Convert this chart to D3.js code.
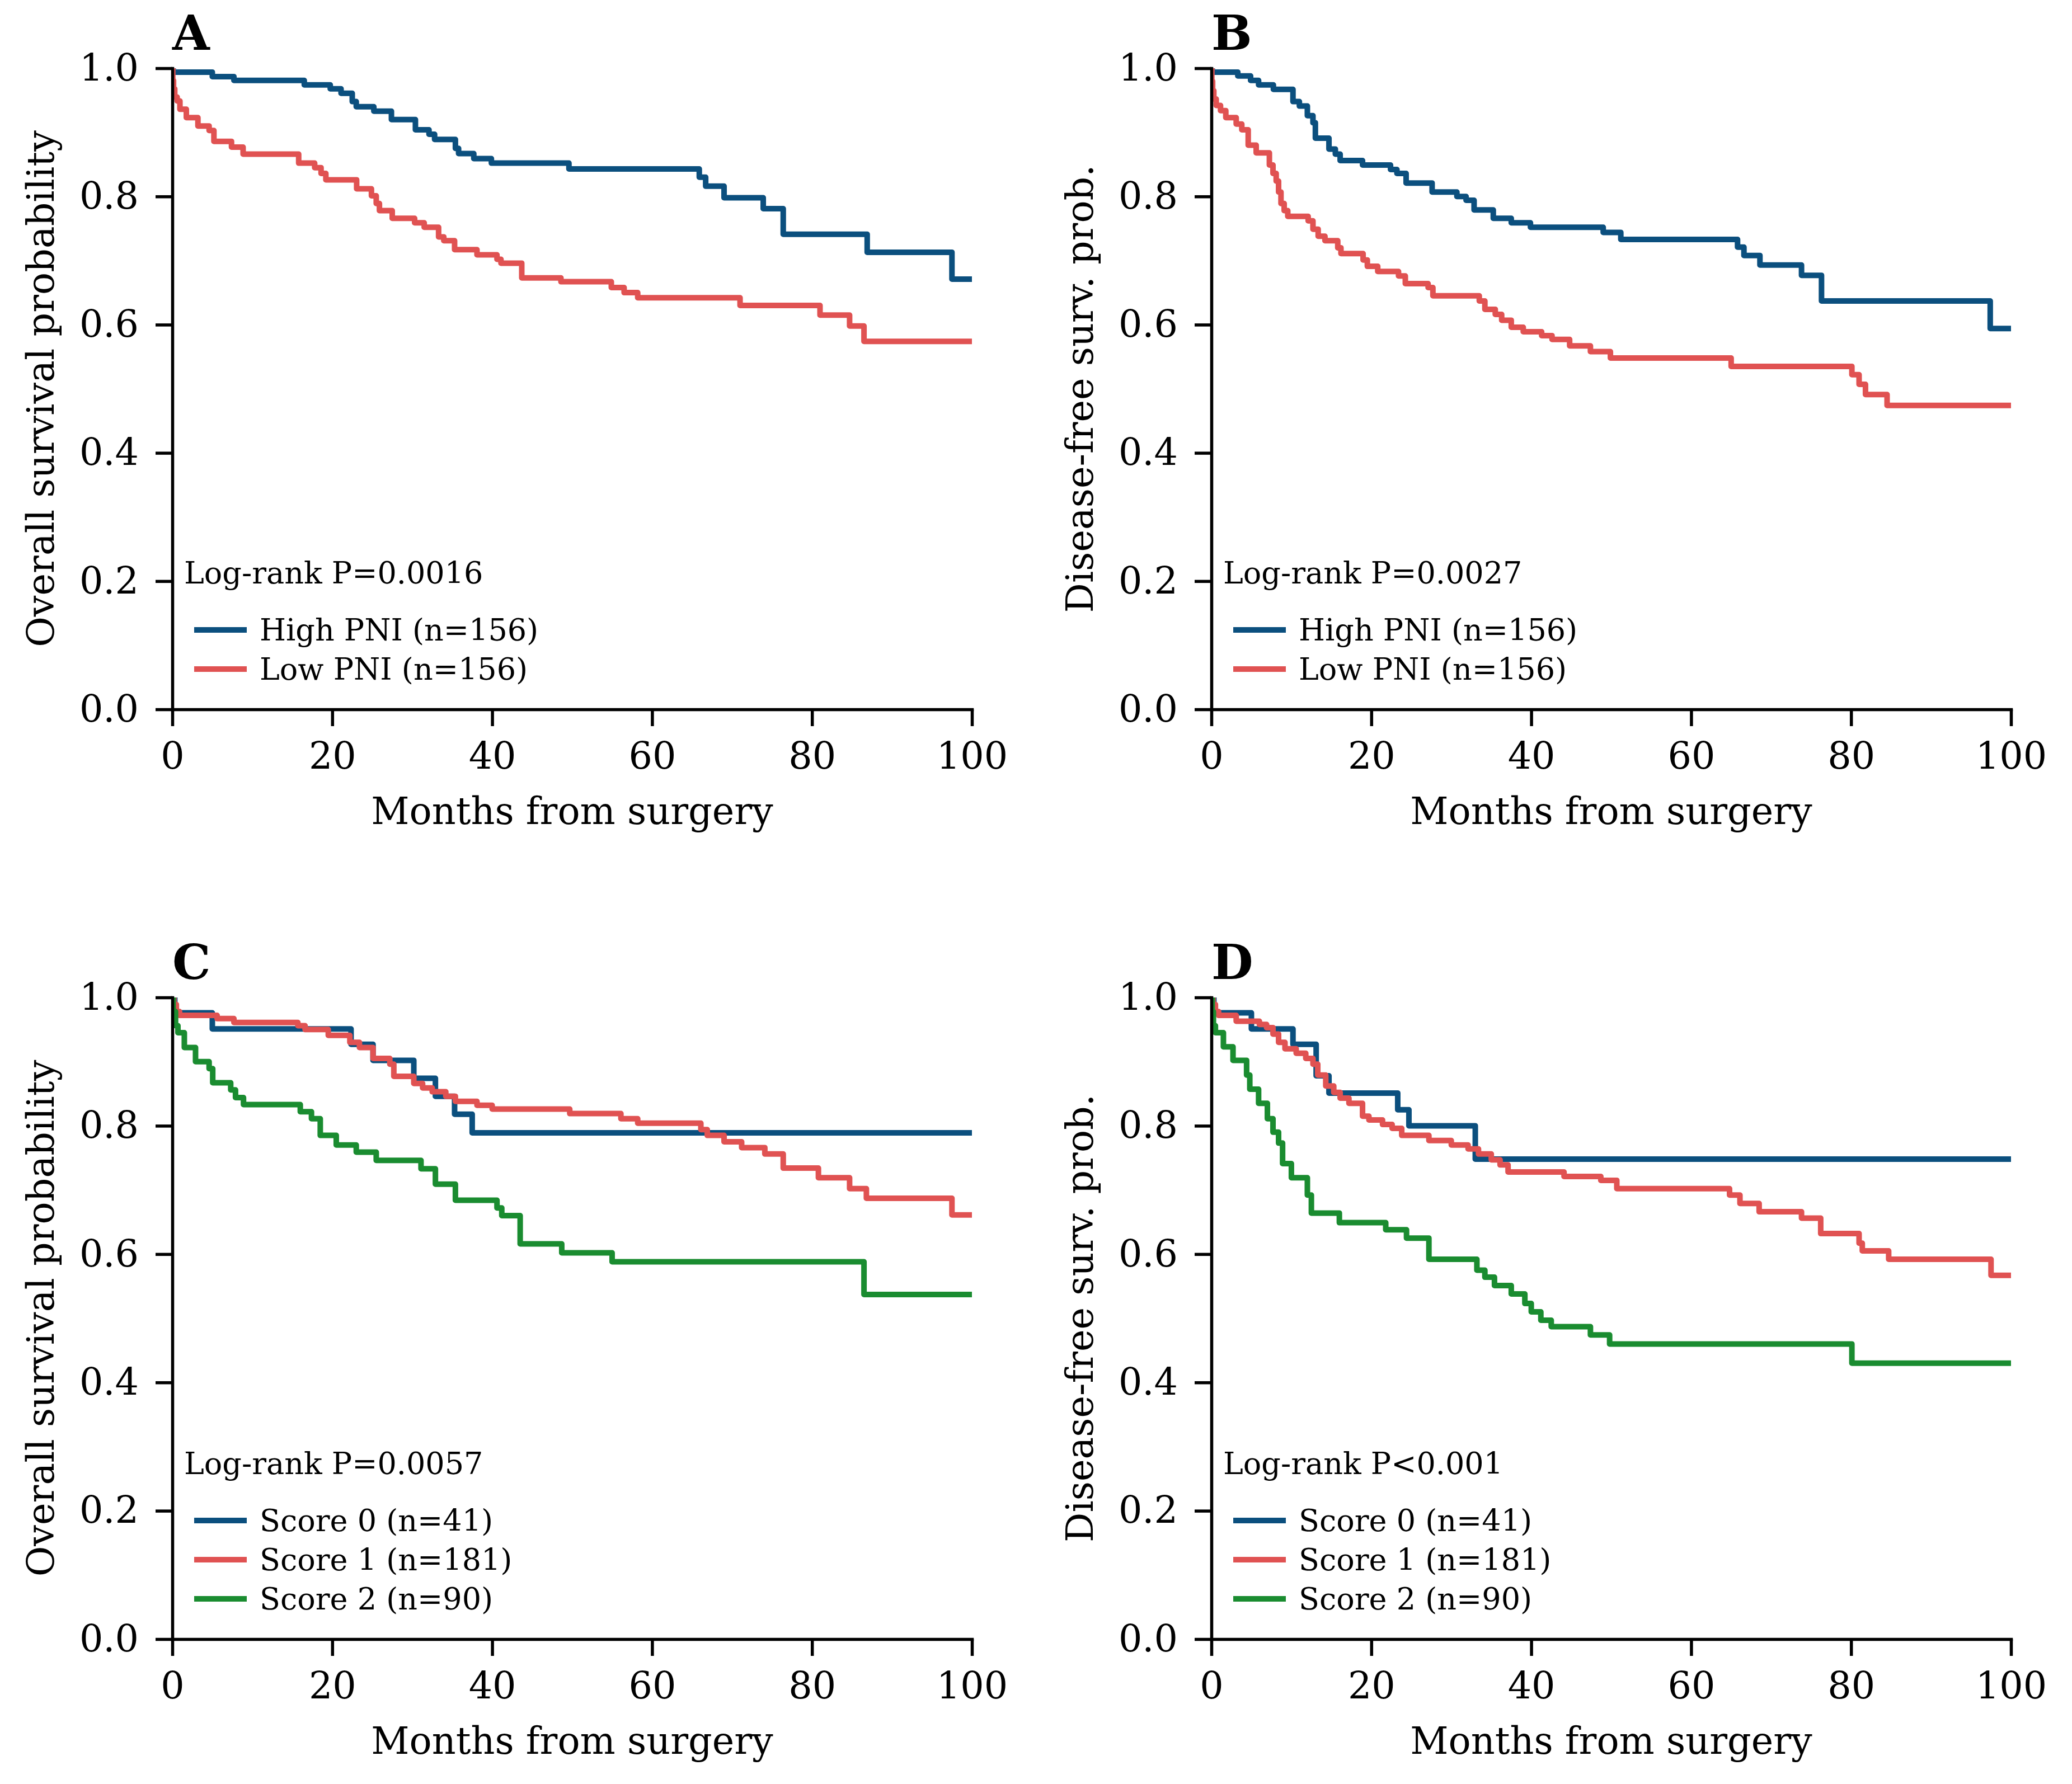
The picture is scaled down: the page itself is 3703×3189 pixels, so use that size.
<!DOCTYPE html>
<html><head><meta charset="utf-8">
<script src="https://cdn.jsdelivr.net/npm/d3@7"></script>
<style>body{margin:0;background:#fff} svg text{font-family:"DejaVu Serif",serif}</style>
</head><body>
<svg id="fig" width="3703" height="3189"></svg>
<script>
// ---------- data ----------
const xTicks = [0, 20, 40, 60, 80, 100];
const yTicks = [0, 0.2, 0.4, 0.6, 0.8, 1.0];

const colBlue = "#0b4f7e", colRed = "#e05252", colGreen = "#1a8c30";

// [month, survival] step points (after t=0, S=1)
const A_high = [[0.1,0.994],[5.0,0.987],[7.7,0.981],[16.5,0.974],[19.75,0.968],[21.1,0.961],[22.5,0.948],[23.0,0.940],[25.2,0.933],[27.4,0.920],[30.4,0.904],[32.1,0.897],[32.8,0.889],[35.4,0.875],[35.8,0.867],[37.7,0.859],[39.9,0.852],[49.6,0.843],[65.9,0.830],[66.7,0.816],[69.0,0.798],[73.9,0.781],[76.4,0.741],[86.9,0.713],[97.5,0.671]];
const A_low = [[0.05,0.981],[0.15,0.968],[0.3,0.955],[0.6,0.949],[0.95,0.936],[1.75,0.923],[3.2,0.910],[4.6,0.903],[5.2,0.886],[7.4,0.877],[8.85,0.866],[15.8,0.852],[17.8,0.845],[18.6,0.836],[19.2,0.826],[23.05,0.812],[24.9,0.801],[25.5,0.789],[25.9,0.778],[27.5,0.766],[30.3,0.759],[31.5,0.752],[33.3,0.737],[33.95,0.731],[35.3,0.717],[38.1,0.709],[40.6,0.702],[41.1,0.696],[43.7,0.673],[48.6,0.667],[54.9,0.658],[56.5,0.650],[58.2,0.642],[71.0,0.630],[81.0,0.615],[84.7,0.598],[86.5,0.574]];

const B_high = [[0.1,0.994],[3.3,0.988],[4.9,0.981],[5.9,0.974],[7.75,0.967],[10.2,0.948],[11.0,0.941],[12.0,0.926],[12.7,0.915],[13.0,0.891],[14.7,0.874],[15.5,0.866],[16.1,0.856],[18.9,0.849],[22.4,0.842],[23.2,0.836],[24.35,0.821],[27.6,0.807],[30.7,0.800],[31.85,0.794],[32.85,0.779],[35.25,0.766],[37.5,0.759],[39.9,0.752],[49.0,0.744],[51.2,0.733],[65.8,0.721],[66.6,0.708],[68.6,0.693],[73.8,0.677],[76.3,0.637],[97.4,0.594]];
const B_low = [[0.05,0.980],[0.15,0.965],[0.3,0.952],[0.6,0.942],[1.14,0.934],[1.8,0.923],[3.1,0.913],[3.8,0.904],[4.6,0.880],[5.6,0.868],[7.25,0.849],[7.7,0.836],[8.1,0.824],[8.4,0.807],[8.7,0.789],[9.1,0.778],[9.55,0.769],[12.1,0.762],[12.7,0.749],[13.35,0.738],[14.2,0.731],[15.8,0.720],[16.2,0.711],[18.97,0.701],[19.5,0.691],[20.8,0.683],[23.4,0.676],[24.25,0.664],[27.1,0.658],[27.7,0.645],[33.5,0.637],[34.2,0.624],[35.5,0.616],[36.3,0.607],[37.5,0.596],[39.0,0.589],[41.3,0.583],[42.6,0.577],[44.8,0.567],[47.4,0.558],[49.9,0.548],[65.0,0.535],[80.1,0.522],[81.0,0.507],[81.8,0.491],[84.5,0.474]];

const C_s0 = [[0.3,0.976],[5.0,0.951],[22.35,0.927],[25.1,0.902],[30.2,0.874],[32.9,0.846],[35.3,0.818],[37.5,0.789]];
const C_s1 = [[0.2,0.989],[0.5,0.978],[0.9,0.972],[5.6,0.967],[7.7,0.961],[15.7,0.956],[16.6,0.950],[19.5,0.941],[22.2,0.930],[23.4,0.922],[25.1,0.905],[27.2,0.896],[27.7,0.877],[30.2,0.866],[31.3,0.859],[32.5,0.853],[34.2,0.846],[35.4,0.838],[38.1,0.832],[40.0,0.826],[49.7,0.819],[56.1,0.811],[58.2,0.804],[66.1,0.794],[66.9,0.785],[69.0,0.775],[71.2,0.766],[74.1,0.756],[76.4,0.734],[80.8,0.719],[84.7,0.702],[86.8,0.687],[97.5,0.661]];
const C_s2 = [[0.1,0.978],[0.4,0.956],[0.7,0.945],[1.5,0.922],[2.9,0.900],[4.6,0.889],[5.05,0.867],[7.3,0.856],[7.9,0.844],[8.9,0.833],[16.0,0.822],[17.4,0.811],[18.5,0.785],[20.5,0.770],[23.0,0.759],[25.5,0.746],[31.1,0.733],[32.9,0.709],[35.4,0.684],[40.6,0.672],[41.2,0.660],[43.5,0.616],[48.7,0.602],[55.0,0.588],[86.5,0.537]];

const D_s0 = [[0.3,0.976],[5.0,0.951],[10.2,0.927],[13.1,0.878],[14.7,0.851],[23.3,0.825],[24.7,0.800],[33.0,0.748]];
const D_s1 = [[0.2,0.989],[0.5,0.978],[0.9,0.972],[3.1,0.963],[6.0,0.958],[6.9,0.953],[7.7,0.943],[8.4,0.930],[9.2,0.920],[10.6,0.913],[11.8,0.905],[12.7,0.896],[13.3,0.879],[14.3,0.862],[15.3,0.852],[16.1,0.843],[17.2,0.835],[18.9,0.815],[19.7,0.809],[21.4,0.802],[22.6,0.796],[23.8,0.785],[27.2,0.777],[30.0,0.770],[32.1,0.764],[33.4,0.756],[35.0,0.747],[36.1,0.739],[37.1,0.728],[44.1,0.721],[48.7,0.715],[50.7,0.702],[64.8,0.692],[66.1,0.679],[68.5,0.666],[73.8,0.656],[76.2,0.632],[81.0,0.617],[81.4,0.605],[84.7,0.592],[97.5,0.567]];
const D_s2 = [[0.1,0.978],[0.25,0.956],[0.5,0.945],[1.5,0.923],[2.7,0.902],[4.4,0.879],[4.8,0.857],[5.9,0.835],[7.0,0.811],[7.7,0.790],[8.4,0.773],[8.9,0.741],[10.0,0.719],[12.0,0.692],[12.5,0.664],[16.0,0.649],[21.8,0.638],[24.4,0.625],[27.2,0.592],[33.2,0.575],[34.2,0.564],[35.4,0.551],[37.5,0.538],[39.2,0.523],[40.0,0.510],[41.2,0.497],[42.5,0.487],[47.4,0.474],[49.8,0.460],[80.1,0.430]];

const pniLabels = ["High PNI (n=156)", "Low PNI (n=156)"];
const scoreLabels = ["Score 0 (n=41)", "Score 1 (n=181)", "Score 2 (n=90)"];
const panelLetters = ["A", "B", "C", "D"];
const yLabels = ["Overall survival probability", "Disease-free surv. prob.", "Overall survival probability", "Disease-free surv. prob."];
const pTexts = ["Log-rank P=0.0016", "Log-rank P=0.0027", "Log-rank P=0.0057", "Log-rank P<0.001"];
const xLabel = "Months from surgery";

// ---------- layout ----------
const panels = [
  {x0:308,  y1:122,  y0:1268, series:[A_high, A_low],      labels:pniLabels,   colors:[colBlue,colRed]},
  {x0:2165, y1:122,  y0:1268, series:[B_high, B_low],      labels:pniLabels,   colors:[colBlue,colRed]},
  {x0:308,  y1:1783, y0:2930, series:[C_s0, C_s1, C_s2],   labels:scoreLabels, colors:[colBlue,colRed,colGreen]},
  {x0:2165, y1:1783, y0:2930, series:[D_s0, D_s1, D_s2],   labels:scoreLabels, colors:[colBlue,colRed,colGreen]}
];
const W = 1429;
const FS = 66.7, FS_SMALL = 54, FS_LETTER = 86, LW = 10;
const svg = d3.select("#fig");
svg.append("rect").attr("width",3703).attr("height",3189).attr("fill","#fff");

panels.forEach((p, i) => {
  const x = d3.scaleLinear().domain([0,100]).range([p.x0, p.x0 + W]);
  const y = d3.scaleLinear().domain([0,1]).range([p.y0, p.y1]);
  const g = svg.append("g");

  const clipId = "clip" + i;
  svg.append("clipPath").attr("id", clipId).append("rect")
    .attr("x", p.x0).attr("y", p.y1).attr("width", W).attr("height", p.y0 - p.y1);

  const line = d3.line().x(d => x(d[0])).y(d => y(d[1])).curve(d3.curveStepAfter);
  const curves = g.append("g").attr("clip-path", `url(#${clipId})`);
  p.series.forEach((s, k) => {
    const pts = [[0,1]].concat(s).concat([[100, s[s.length-1][1]]]);
    curves.append("path").attr("d", line(pts)).attr("fill","none")
      .attr("stroke", p.colors[k]).attr("stroke-width", LW)
      .attr("stroke-linejoin","round");
  });

  // axes
  const xa = g.append("g").attr("transform", `translate(0,${p.y0})`)
    .call(d3.axisBottom(x).tickValues(xTicks).tickSize(30).tickSizeOuter(0).tickPadding(29).tickFormat(d3.format("d")));
  const ya = g.append("g").attr("transform", `translate(${p.x0},0)`)
    .call(d3.axisLeft(y).tickValues(yTicks).tickSize(30).tickSizeOuter(0).tickPadding(30).tickFormat(d3.format(".1f")));
  [xa, ya].forEach(a => {
    a.attr("font-family", "DejaVu Serif").attr("font-size", FS);
    a.select(".domain").attr("stroke","#000").attr("stroke-width",5.5).attr("stroke-linecap","square");
    a.selectAll(".tick line").attr("stroke","#000").attr("stroke-width",5.5);
    a.selectAll(".tick text").attr("fill","#000");
  });

  // axis labels
  g.append("text").attr("x", p.x0 + W/2).attr("y", p.y0 + 205)
    .attr("text-anchor","middle").attr("font-size", FS).attr("fill","#000").text(xLabel);
  g.append("text").attr("transform", `translate(${p.x0 - 212},${(p.y0 + p.y1)/2}) rotate(-90)`)
    .attr("text-anchor","middle").attr("font-size", FS).attr("fill","#000").text(yLabels[i]);

  // panel letter
  g.append("text").attr("x", p.x0).attr("y", p.y1 - 33)
    .attr("font-size", FS_LETTER).attr("font-weight","bold").attr("fill","#000").text(panelLetters[i]);

  // legend
  const n = p.labels.length;
  const lineY = k => p.y0 - 72 - 70 * (n - 1 - k);
  g.append("text").attr("x", p.x0 + 21).attr("y", lineY(0) - 83)
    .attr("font-size", FS_SMALL).attr("fill","#000").text(pTexts[i]);
  p.labels.forEach((lab, k) => {
    g.append("line").attr("x1", p.x0 + 39).attr("x2", p.x0 + 133)
      .attr("y1", lineY(k)).attr("y2", lineY(k))
      .attr("stroke", p.colors[k]).attr("stroke-width", LW);
    g.append("text").attr("x", p.x0 + 156).attr("y", lineY(k) + 19)
      .attr("font-size", FS_SMALL).attr("fill","#000").text(lab);
  });
});
</script>
</body></html>
